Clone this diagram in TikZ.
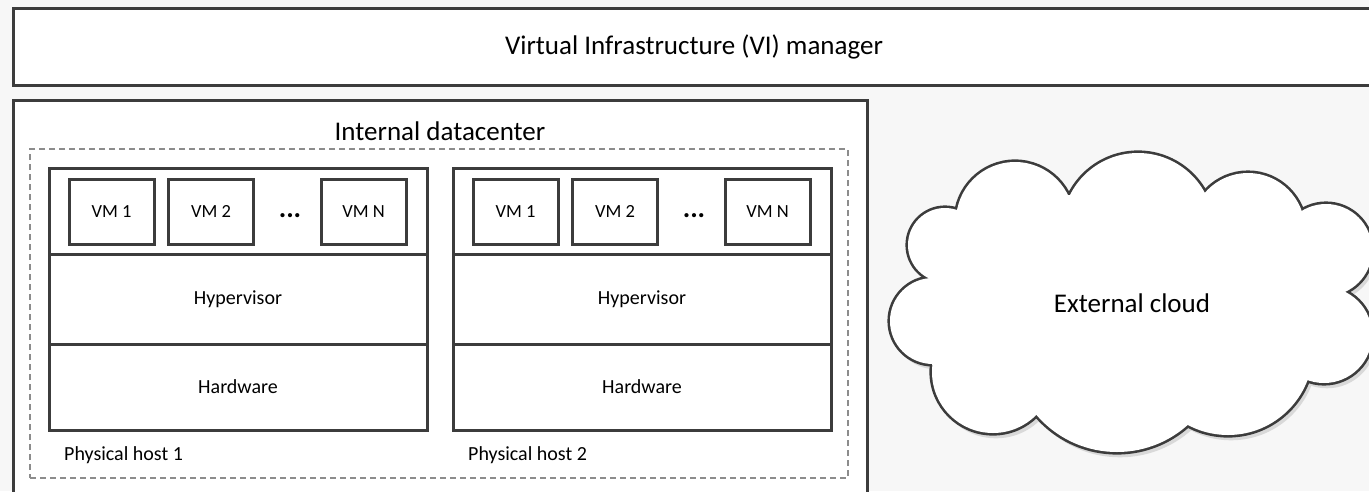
\documentclass[tikz,border=0pt]{standalone}
\usepackage{fontspec}
\setmainfont{Carlito}
\definecolor{linegray}{HTML}{3C3C3C}
\definecolor{dashgray}{HTML}{8C8C8C}
\definecolor{pagegray}{HTML}{F7F7F7}
\newcommand\cloudpuffs{1015/221/59, 1138/229/76, 1248/230/57, 1326/250/46, 1324/335/48,
  1228/350/85, 1117/346/106, 993/372/61, 933/321/43, 945/245/37}
\begin{document}
\begin{tikzpicture}[x=1pt,y=-1pt,
  box/.style={draw=linegray, line width=3pt, fill=white, inner sep=0pt},
  vmbox/.style={box, minimum width=85pt, minimum height=65pt, font=\fontsize{18.5}{22}\selectfont},
  layer/.style={box, minimum width=378pt, font=\fontsize{20}{24}\selectfont},
  bigtext/.style={font=\fontsize{27}{32}\selectfont},
  smalltext/.style={font=\fontsize{20}{24}\selectfont}]
\useasboundingbox (0,0) rectangle (1369,491);
\clip (0,0) rectangle (1369,491);
\fill[pagegray] (0,0) rectangle (1369,491);
\node[box, bigtext, minimum width=1361pt, minimum height=77pt] (vim) at (694,46.5) {Virtual Infrastructure (VI) manager};
\node[box, minimum width=853.5pt, minimum height=400pt] (dc) at (440.25,300) {};
\node[bigtext] (dctitle) at (440,131) {Internal datacenter};
\node[draw=dashgray, line width=1.2pt, dash pattern=on 6pt off 4pt, inner sep=0pt, minimum width=818pt, minimum height=329pt] (hosts) at (439,313.5) {};
\node[layer, minimum height=86pt] (h1vms) at (238,211) {};
\node[layer, minimum height=90pt] (h1hyp) at (238,299) {Hypervisor};
\node[layer, minimum height=86pt] (h1hw) at (238,387) {Hardware};
\node[vmbox] (h1vma) at (111.5,211.5) {VM 1};
\node[vmbox] (h1vmb) at (211,211.5) {VM 2};
\node[font=\bfseries\fontsize{28}{30}\selectfont, inner sep=0pt] (h1dots) at (290,216) {...};
\node[vmbox] (h1vmn) at (363.5,211.5) {VM N};
\node[smalltext, anchor=west, inner sep=0pt] (h1name) at (64,455) {Physical host 1};
\node[layer, minimum height=86pt] (h2vms) at (642,211) {};
\node[layer, minimum height=90pt] (h2hyp) at (642,299) {Hypervisor};
\node[layer, minimum height=86pt] (h2hw) at (642,387) {Hardware};
\node[vmbox] (h2vma) at (515.5,211.5) {VM 1};
\node[vmbox] (h2vmb) at (615,211.5) {VM 2};
\node[font=\bfseries\fontsize{28}{30}\selectfont, inner sep=0pt] (h2dots) at (694,216) {...};
\node[vmbox] (h2vmn) at (767.5,211.5) {VM N};
\node[smalltext, anchor=west, inner sep=0pt] (h2name) at (468,455) {Physical host 2};
\begin{scope}[shift={(3,4)}]
\fill[black!15] (960,210) -- (1070,195) -- (1205,193) -- (1302,212) -- (1345,292) -- (1308,380) -- (1188,425) -- (1037,415) -- (932,365) -- (933,280) -- cycle;
\foreach \cx/\cy/\r in \cloudpuffs
  \fill[black!15] (\cx,\cy) circle[radius=\r pt+1.3pt];
\end{scope}
\foreach \cx/\cy/\r in \cloudpuffs
  \draw[linegray, line width=5.2pt] (\cx,\cy) circle[radius=\r pt];
\fill[white] (960,210) -- (1070,195) -- (1205,193) -- (1302,212) -- (1345,292) -- (1308,380) -- (1188,425) -- (1037,415) -- (932,365) -- (933,280) -- cycle;
\foreach \cx/\cy/\r in \cloudpuffs
  \fill[white] (\cx,\cy) circle[radius=\r pt];
\node[bigtext] (ext) at (1132,303) {External cloud};
\end{tikzpicture}
\end{document}
